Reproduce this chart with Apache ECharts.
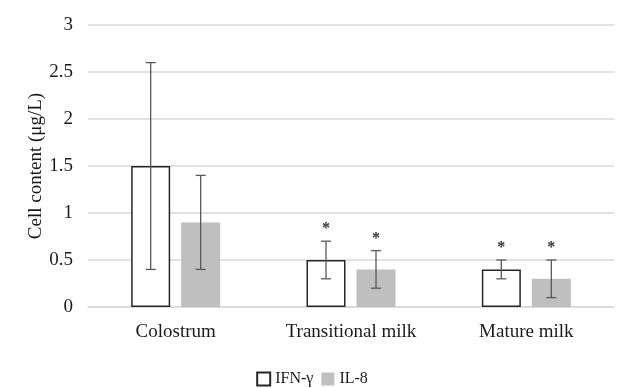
<!DOCTYPE html>
<html>
<head>
<meta charset="utf-8">
<script src="https://cdn.jsdelivr.net/npm/echarts@6/dist/echarts.min.js"></script>
<style>
html,body{margin:0;padding:0;background:#fff;}
#chart{width:624px;height:388px;}
</style>
</head>
<body>
<div id="chart"></div>
<script>
const categories = ['Colostrum', 'Transitional milk', 'Mature milk'];
const seriesNames = ['IFN-γ', 'IL-8'];
const ifnMean = [1.5, 0.5, 0.4];
const ifnLow = [0.4, 0.3, 0.3];
const ifnHigh = [2.6, 0.7, 0.5];
const il8Mean = [0.9, 0.4, 0.3];
const il8Low = [0.4, 0.2, 0.1];
const il8High = [1.4, 0.6, 0.5];
const ifnSig = ['', '*', '*'];
const il8Sig = ['', '*', '*'];
const yMin = 0, yMax = 3, yStep = 0.5;

const FONT = '"Liberation Serif", "Times New Roman", serif';
const BAR_W = 39, BAR_GAP = 11;
const OFFSET = (BAR_W + BAR_GAP) / 2;

function errSeries(low, high, sig, dir) {
  return {
    type: 'custom',
    z: 5,
    silent: true,
    data: low.map((l, i) => [i, l, high[i]]),
    renderItem: function (params, api) {
      const i = api.value(0);
      const pLo = api.coord([i, api.value(1)]);
      const pHi = api.coord([i, api.value(2)]);
      const cx = pLo[0] + dir * OFFSET;
      const cap = 5;
      const style = { stroke: '#595959', lineWidth: 1.3 };
      const children = [
        { type: 'line', shape: { x1: cx, y1: pLo[1], x2: cx, y2: pHi[1] }, style: style },
        { type: 'line', shape: { x1: cx - cap, y1: pLo[1], x2: cx + cap, y2: pLo[1] }, style: style },
        { type: 'line', shape: { x1: cx - cap, y1: pHi[1], x2: cx + cap, y2: pHi[1] }, style: style }
      ];
      const s = sig[params.dataIndex];
      if (s) {
        children.push({
          type: 'text',
          style: {
            text: s, x: cx, y: pHi[1] - 12,
            textAlign: 'center', textVerticalAlign: 'middle',
            fill: '#333', font: 'bold 16px ' + FONT
          }
        });
      }
      return { type: 'group', children: children };
    }
  };
}

const chart = echarts.init(document.getElementById('chart'), null, { renderer: 'canvas' });
chart.setOption({
  animation: false,
  backgroundColor: '#fff',
  textStyle: { fontFamily: FONT },
  grid: { left: 88, right: 10, top: 25, bottom: 81 },
  legend: {
    data: seriesNames,
    top: 366,
    left: 'center',
    icon: 'rect',
    itemWidth: 13,
    itemHeight: 13,
    itemGap: 8,
    textStyle: { fontFamily: FONT, fontSize: 16, color: '#1a1a1a' }
  },
  xAxis: {
    type: 'category',
    data: categories,
    axisLine: { lineStyle: { color: '#d9d9d9', width: 1.5 } },
    axisTick: { show: false },
    axisLabel: { fontFamily: FONT, fontSize: 19, color: '#1a1a1a', margin: 16 }
  },
  yAxis: {
    type: 'value',
    min: yMin, max: yMax, interval: yStep,
    name: 'Cell content (μg/L)',
    nameLocation: 'middle',
    nameGap: 42,
    nameMoveOverlap: false,
    nameTextStyle: { fontFamily: FONT, fontSize: 19, color: '#1a1a1a' },
    axisLine: { show: false },
    axisTick: { show: false },
    axisLabel: { fontFamily: FONT, fontSize: 19, color: '#1a1a1a', margin: 15 },
    splitLine: { lineStyle: { color: '#d9d9d9', width: 1.5 } }
  },
  series: [
    {
      name: seriesNames[0], type: 'bar', data: ifnMean,
      barWidth: BAR_W, barGap: (BAR_GAP / BAR_W * 100) + '%',
      itemStyle: { color: '#ffffff', borderColor: '#262626', borderWidth: 1.5 }
    },
    {
      name: seriesNames[1], type: 'bar', data: il8Mean,
      barWidth: BAR_W,
      itemStyle: { color: '#bfbfbf' }
    },
    errSeries(ifnLow, ifnHigh, ifnSig, -1),
    errSeries(il8Low, il8High, il8Sig, 1)
  ]
});
</script>
</body>
</html>
